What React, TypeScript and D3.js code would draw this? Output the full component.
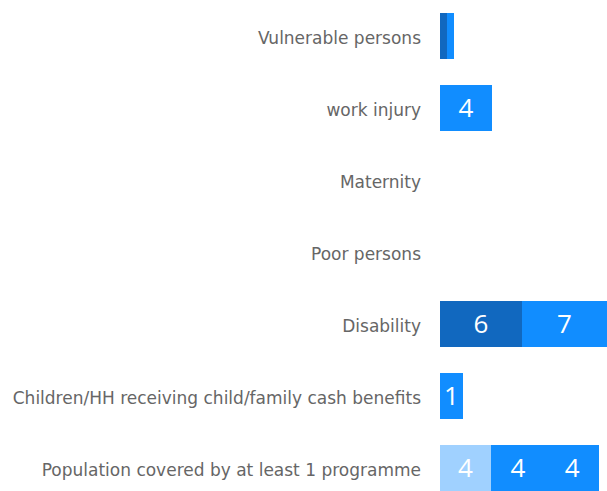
import React, { useEffect, useRef } from "react";
import * as d3 from "d3";

const categories = [
  "Vulnerable persons",
  "work injury",
  "Maternity",
  "Poor persons",
  "Disability",
  "Children/HH receiving child/family cash benefits",
  "Population covered by at least 1 programme",
];

// four stacked series, one value per category
const seriesA = [0, 0, 0, 0, 0, 0, 4.25];
const seriesB = [0.6, 0, 0, 0, 6.83, 0, 0];
const seriesC = [0.58, 4.33, 0, 0, 7.08, 1.92, 4.5];
const seriesD = [0, 0, 0, 0, 0, 0, 4.5];

const seriesKeys = ["A", "B", "C", "D"];
const seriesColors = ["#A0D1FF", "#1168BF", "#118DFF", "#118DFF"];

const App = () => {
  const svgRef = useRef<SVGSVGElement>(null);

  useEffect(() => {
    const width = 607;
    const height = 491;
    const svg = d3.select(svgRef.current).attr("width", width).attr("height", height);
    svg.selectAll("*").remove();

    const rows = categories.map((c, i) => ({
      cat: c,
      A: seriesA[i],
      B: seriesB[i],
      C: seriesC[i],
      D: seriesD[i],
    }));

    const stacked = d3.stack<any>().keys(seriesKeys)(rows);
    const maxVal = d3.max(rows, (r) => r.A + r.B + r.C + r.D) || 1;

    const x = d3.scaleLinear().domain([0, maxVal]).range([440, 607]);
    const y = d3
      .scaleBand()
      .domain(categories)
      .range([0, 504])
      .paddingInner(0.35)
      .paddingOuter(0.175);

    // category labels
    svg
      .append("g")
      .selectAll("text")
      .data(categories)
      .enter()
      .append("text")
      .attr("x", 421)
      .attr("y", (d) => (y(d) || 0) + y.bandwidth() / 2 + 7.5)
      .attr("text-anchor", "end")
      .attr("fill", "#666666")
      .style("font-family", "'DejaVu Sans', sans-serif")
      .style("font-size", "17px")
      .text((d) => d);

    const layer = svg
      .selectAll(".layer")
      .data(stacked)
      .enter()
      .append("g")
      .attr("class", "layer")
      .attr("fill", (_d, i) => seriesColors[i]);

    layer
      .selectAll("rect")
      .data((d) => d.map((p) => ({ p, cat: p.data.cat })))
      .enter()
      .append("rect")
      .attr("x", (d) => x(d.p[0]))
      .attr("y", (d) => y(d.cat) || 0)
      .attr("width", (d) => x(d.p[1]) - x(d.p[0]))
      .attr("height", y.bandwidth())
      .attr("shape-rendering", "crispEdges");

    // data labels
    layer
      .selectAll("text")
      .data((d) => d.map((p) => ({ p, cat: p.data.cat })))
      .enter()
      .append("text")
      .filter((d) => x(d.p[1]) - x(d.p[0]) > 15)
      .attr("x", (d) => (x(d.p[0]) + x(d.p[1])) / 2)
      .attr("y", (d) => (y(d.cat) || 0) + y.bandwidth() / 2)
      .attr("dy", "0.36em")
      .attr("text-anchor", "middle")
      .attr("fill", "#ffffff")
      .style("font-family", "'Open Sans', 'DejaVu Sans', sans-serif")
      .style("font-size", "26px")
      .text((d) => Math.floor(d.p[1] - d.p[0]));
  }, []);

  return (
    <div style={{ position: "absolute", left: 0, top: 0 }}>
      <svg ref={svgRef}></svg>
    </div>
  );
};

export default App;
